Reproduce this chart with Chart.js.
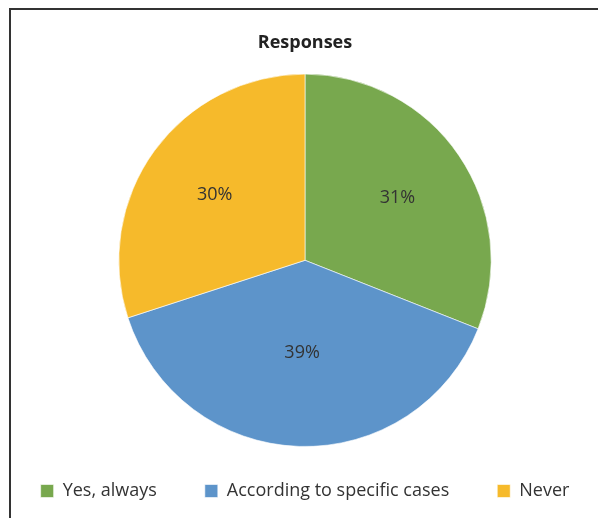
<!DOCTYPE html>
<html>
<head>
<meta charset="utf-8">
<script src="https://cdn.jsdelivr.net/npm/chart.js@4/dist/chart.umd.min.js"></script>
<style>
  html, body { margin: 0; padding: 0; background: #fff; overflow: hidden; }
  #wrap { position: relative; width: 598px; height: 518px; overflow: hidden; }
  #frame { position: absolute; left: 9px; top: 8px; width: 600px; height: 520px;
           border-top: 2px solid #333; border-left: 2px solid #333; }
  /* canvas is a bit wider than the window so the legend fits on one row */
  canvas { position: absolute; left: -31px; top: 0; }
</style>
</head>
<body>
<div id="wrap">
  <div id="frame"></div>
  <canvas id="myChart" width="660" height="518"></canvas>
</div>
<script>
var LABELS=['Yes, always', 'According to specific cases', 'Never'];
var PERCENTS=[31, 39, 30];
var COLORS=['#78a84e', '#5d94ca', '#f6ba2b'];

// percentage text inside each slice
var sliceLabels={
    id: 'sliceLabels',
    afterLayout: function(chart, args, opts){
        // let the pie use part of the legend's padding
        chart.chartArea.bottom+=opts.extendBottom;
        chart.chartArea.height+=opts.extendBottom;
    },
    afterDatasetsDraw: function(chart, args, opts){
        var ctx=chart.ctx;
        var meta=chart.getDatasetMeta(0);
        ctx.save();
        ctx.font='18px "Open Sans", sans-serif';
        ctx.fillStyle='#333';
        ctx.textAlign='center';
        ctx.textBaseline='middle';
        meta.data.forEach(function(arc, i){
            var p=arc.getProps(['x','y','startAngle','endAngle','outerRadius'], true);
            var mid=(p.startAngle+p.endAngle)/2;
            var r=p.outerRadius*opts.radius[i];
            ctx.fillText(chart.data.datasets[0].data[i]+'%', p.x+Math.cos(mid)*r, p.y+Math.sin(mid)*r);
        });
        ctx.restore();
    }
};

var ctx=document.getElementById("myChart");
var myPieChart=new Chart(ctx, {
    type: 'pie',
    data: {
        labels: LABELS,
        datasets:[
            {
            data: PERCENTS,
            backgroundColor: COLORS,
            borderColor: 'rgba(255,255,255,0.6)',
            borderWidth: 1,
            },
        ],
    },
    options: {
        responsive: false,
        animation: false,
        layout: { padding: { left: 12, top: 32, bottom: 8 } },
        plugins: {
            title: {
                display: true,
                text: 'Responses',
                color: '#222',
                font: { family: '"Open Sans", sans-serif', size: 18, weight: 'bold' },
                padding: { top: 0, bottom: 20 }
            },
            legend: {
                position: 'bottom',
                labels: {
                    boxWidth: 13,
                    boxHeight: 13,
                    padding: 48,
                    color: '#333',
                    font: { family: '"Open Sans", sans-serif', size: 18 }
                }
            },
            tooltip: { enabled: false },
            sliceLabels: { radius: [0.6, 0.5, 0.6], extendBottom: 13 }
        }
    },
    plugins: [sliceLabels]
});
</script>
</body>
</html>
